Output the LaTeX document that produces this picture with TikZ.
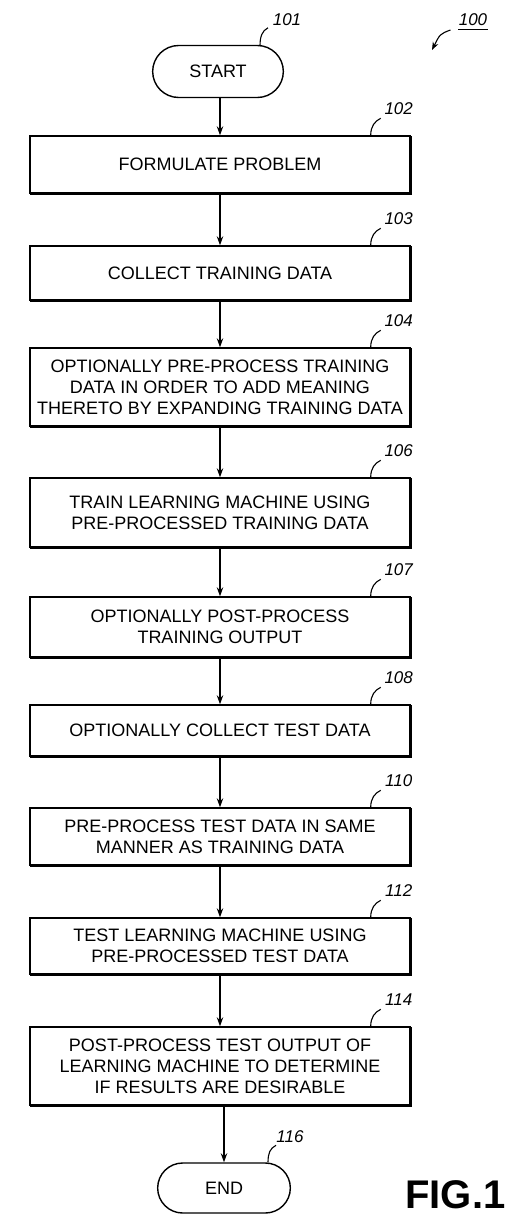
\documentclass[tikz,border=0pt]{standalone}
\usepackage{fontspec}
\setmainfont{Liberation Sans}
\usetikzlibrary{shapes.misc,arrows.meta,calc}
\begin{document}
\begin{tikzpicture}[x=0.5pt,y=-0.5pt,
  stepbox/.style={draw,line width=0.7pt,minimum width=190pt,align=center,
    font=\fontsize{9}{10.5}\selectfont,inner sep=0pt},
  term/.style={draw,rounded rectangle,line width=0.7pt,minimum width=72pt,
    minimum height=26pt,font=\fontsize{9}{10.5}\selectfont},
  flow/.style={line width=0.55pt,-{Stealth[length=4.5pt,width=3.2pt]}},
  leader/.style={line width=0.55pt},
  num/.style={font=\fontsize{8.5}{10}\itshape\selectfont,inner sep=0pt},
  shadowb/.style={line width=1.6pt},
  shadowr/.style={line width=1.1pt}
]
\useasboundingbox (0,0) rectangle (508,1214);

% terminals
\node[term] (start) at (218,71.5) {START};
\node[term,minimum height=25pt,minimum width=73pt] (end) at (224,1188) {END};

% process boxes
\node[stepbox,minimum height=28.5pt] (b102) at (220,164.5) {FORMULATE PROBLEM};
\node[stepbox,minimum height=27pt] (b103) at (220,273) {COLLECT TRAINING DATA};
\node[stepbox,minimum height=39pt] (b104) at (220,387) {OPTIONALLY PRE-PROCESS TRAINING\\DATA IN ORDER TO ADD MEANING\\THERETO BY EXPANDING TRAINING DATA};
\node[stepbox,minimum height=34.5pt] (b106) at (220,512.5) {TRAIN LEARNING MACHINE USING\\PRE-PROCESSED TRAINING DATA};
\node[stepbox,minimum height=30pt] (b107) at (220,627) {OPTIONALLY POST-PROCESS\\TRAINING OUTPUT};
\node[stepbox,minimum height=25.5pt] (b108) at (220,730.5) {OPTIONALLY COLLECT TEST DATA};
\node[stepbox,minimum height=28.5pt] (b110) at (220,836.5) {PRE-PROCESS TEST DATA IN SAME\\MANNER AS TRAINING DATA};
\node[stepbox,minimum height=28pt] (b112) at (220,946) {TEST LEARNING MACHINE USING\\PRE-PROCESSED TEST DATA};
\node[stepbox,minimum height=39pt] (b114) at (220,1066) {POST-PROCESS TEST OUTPUT OF\\LEARNING MACHINE TO DETERMINE\\IF RESULTS ARE DESIRABLE};

% shadow edges, reference numbers and leaders
\foreach \n in {102,103,104,106,107,108,110,112,114}{
  \draw[shadowb] ($(b\n.south west)+(1,0)$) -- ($(b\n.south east)+(1,0)$);
  \draw[shadowr] ($(b\n.north east)+(0.5,1)$) -- ($(b\n.south east)+(0.5,0)$);
  \coordinate (la\n) at ($(b\n.north east)+(-40,0)$);
  \coordinate (lb\n) at ($(b\n.north east)+(-30,-17)$);
  \draw[leader] (la\n) .. controls ($(la\n)+(0,-9)$) and ($(lb\n)+(-6,3)$) .. (lb\n);
  \node[num] (n\n) at ($(b\n.north east)+(-12,-27)$) {\n};
}

% START / END labels
\coordinate (sa) at ($(start.north)+(42,1)$);
\coordinate (sb) at ($(start.north)+(50,-17)$);
\draw[leader] (sa) .. controls ($(sa)+(0,-9)$) and ($(sb)+(-6,3)$) .. (sb);
\node[num] (n101) at ($(start.north)+(69,-25)$) {101};

\coordinate (ea) at ($(end.north)+(44,0)$);
\coordinate (eb) at ($(end.north)+(52,-17)$);
\draw[leader] (ea) .. controls ($(ea)+(0,-9)$) and ($(eb)+(-6,3)$) .. (eb);
\node[num] (n116) at ($(end.north)+(66,-26)$) {116};

% figure reference 100
\node[num] (n100) at (473,20) {100};
\draw[line width=0.5pt] ($(n100.south west)+(0,3)$) -- ($(n100.south east)+(0,3)$);
\coordinate (p100) at (432,50);
\draw[leader,-{Stealth[length=4pt,width=3pt]}] ($(n100.west)+(-8,10)$) .. controls (440,34) .. (p100);

% connectors
\draw[flow] (start.south -| b102.north) -- (b102.north);
\draw[flow] (b102.south) -- (b103.north);
\draw[flow] (b103.south) -- (b104.north);
\draw[flow] (b104.south) -- (b106.north);
\draw[flow] (b106.south) -- (b107.north);
\draw[flow] (b107.south) -- (b108.north);
\draw[flow] (b108.south) -- (b110.north);
\draw[flow] (b110.south) -- (b112.north);
\draw[flow] (b112.south) -- (b114.north);
\draw[flow] (b114.south -| end.north) -- (end.north);

% caption
\node[font=\fontsize{20}{22}\bfseries\selectfont,anchor=base west,inner sep=0pt] (fig) at (405,1208) {FIG.1};
\end{tikzpicture}
\end{document}
